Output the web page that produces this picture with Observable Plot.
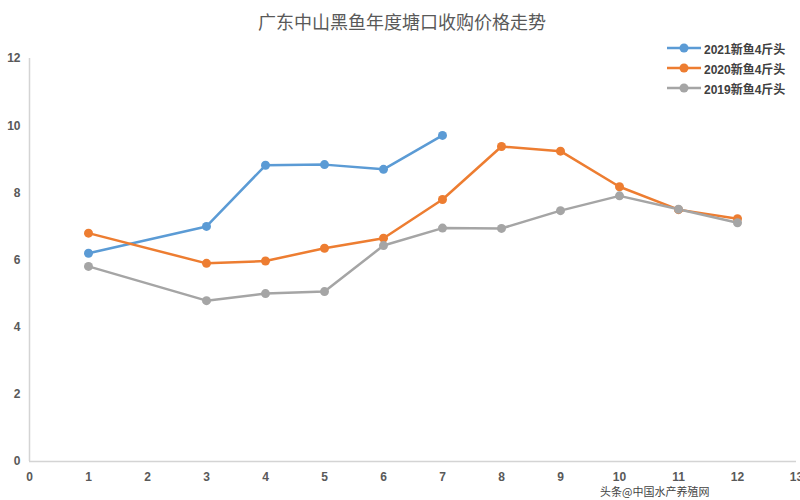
<!DOCTYPE html>
<html>
<head>
<meta charset="utf-8">
<script src="https://cdn.jsdelivr.net/npm/d3@7"></script>
<script src="https://cdn.jsdelivr.net/npm/@observablehq/plot@0.6"></script>
<style>
  html, body { margin: 0; padding: 0; background: #fff; }
  body { width: 800px; height: 500px; position: relative; overflow: hidden;
         font-family: "Liberation Sans", Arial, "Noto Sans CJK SC", sans-serif; }
  #title { height: 40px; line-height: 42px; text-align: center; font-size: 18px; color: #595959;
           font-family: "Noto Sans CJK SC", sans-serif; padding-left: 4px; }
  #legend { position: absolute; left: 667px; top: 38px; font-size: 12px; font-weight: bold; color: #404040;
            font-family: "Liberation Sans", Arial, "Noto Sans CJK SC", sans-serif; }
  #legend .item { display: flex; align-items: center; height: 20px; }
  #legend svg { margin-right: 3px; }
  #wm { position: absolute; left: 600px; top: 485px; font-size: 11px; line-height: 12px; color: #222;
        font-family: "Noto Sans CJK SC", sans-serif; opacity: 0.85; }
</style>
</head>
<body>
<div id="title">广东中山黑鱼年度塘口收购价格走势</div>
<div id="chart"></div>
<div id="legend"></div>
<div id="wm">头条@中国水产养殖网</div>
<script>
const seriesNames = ["2021新鱼4斤头", "2020新鱼4斤头", "2019新鱼4斤头"];
const seriesColors = ["#5B9BD5", "#ED7D31", "#A5A5A5"];
const months2021 = [1, 3, 4, 5, 6, 7];
const values2021 = [6.2, 7.0, 8.82, 8.84, 8.7, 9.71];
const months2020 = [1, 3, 4, 5, 6, 7, 8, 9, 10, 11, 12];
const values2020 = [6.8, 5.9, 5.97, 6.35, 6.65, 7.8, 9.38, 9.24, 8.18, 7.5, 7.23];
const months2019 = [1, 3, 4, 5, 6, 7, 8, 9, 10, 11, 12];
const values2019 = [5.81, 4.79, 5.0, 5.06, 6.43, 6.95, 6.94, 7.47, 7.91, 7.51, 7.11];
const xTicks = [0, 1, 2, 3, 4, 5, 6, 7, 8, 9, 10, 11, 12, 13];
const yTicks = [0, 2, 4, 6, 8, 10, 12];

const groups = [
  {name: seriesNames[0], months: months2021, values: values2021},
  {name: seriesNames[1], months: months2020, values: values2020},
  {name: seriesNames[2], months: months2019, values: values2019}
];
const data = groups.flatMap(g => g.months.map((m, i) => ({series: g.name, month: m, value: g.values[i]})));

const chart = Plot.plot({
  width: 800,
  height: 460,
  marginLeft: 29,
  marginRight: 4,
  marginTop: 18,
  marginBottom: 39,
  style: {fontFamily: "'Liberation Sans', Arial, sans-serif", fontSize: "12px", color: "#595959"},
  x: {domain: [0, 13], ticks: xTicks, tickSize: 0, tickPadding: 11, label: null, tickFormat: d => d},
  y: {domain: [0, 12], ticks: yTicks, tickSize: 0, tickPadding: 9, label: null},
  color: {domain: seriesNames, range: seriesColors},
  marks: [
    Plot.ruleX([0], {stroke: "#d4d4d4", strokeWidth: 1.5}),
    Plot.ruleY([0], {stroke: "#d4d4d4", strokeWidth: 1.5}),
    Plot.axisX({ticks: xTicks, tickSize: 0, tickPadding: 11, fontWeight: "bold", fill: "#595959", tickFormat: d => d, label: null}),
    Plot.axisY({ticks: yTicks, tickSize: 0, tickPadding: 9, fontWeight: "bold", fill: "#595959", label: null}),
    Plot.line(data, {x: "month", y: "value", z: "series", stroke: "series", strokeWidth: 2.5}),
    Plot.dot(data, {x: "month", y: "value", fill: "series", r: 4.5})
  ]
});
document.getElementById("chart").appendChild(chart);

const legend = document.getElementById("legend");
seriesNames.forEach((name, i) => {
  const item = document.createElement("div");
  item.className = "item";
  item.innerHTML = `<svg width="34" height="10"><line x1="0" y1="5" x2="34" y2="5" stroke="${seriesColors[i]}" stroke-width="2.5"/><circle cx="17" cy="5" r="4.5" fill="${seriesColors[i]}"/></svg><span>${name}</span>`;
  legend.appendChild(item);
});
</script>
</body>
</html>
